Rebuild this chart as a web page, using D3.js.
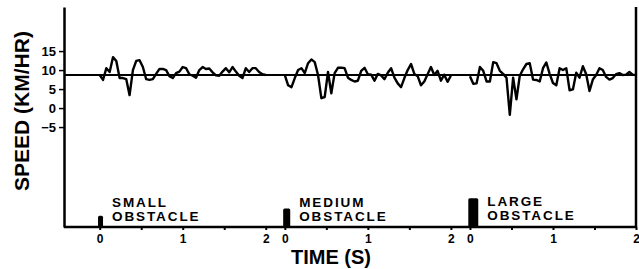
<!DOCTYPE html>
<html>
<head>
<meta charset="utf-8">
<script src="https://d3js.org/d3.v7.min.js"></script>
<style>
  body { margin: 0; background: #fff; }
  svg { display: block; font-family: "Liberation Sans", Arial, sans-serif; }
</style>
</head>
<body>
<svg class="chart"></svg>
<script>
// one trace per obstacle, sampled every 0.04 s from 0 to 2 s
const obstacles = ['SMALL', 'MEDIUM', 'LARGE'];
const obstacleSize = [2.8, 4.6, 7.2];        // pulse height, relative
const obstacleDuration = [0.06, 0.085, 0.12]; // s
const meanSpeed = 8.7;
const timeStep = 0.04;

const speedSmall = [8.7, 7.4, 10.5, 9.5, 13.4, 12.4, 7.9, 7.9, 7.6, 3.4,
  10.0, 12.4, 12.6, 10.8, 7.6, 7.4, 7.6, 9.0, 10.3, 10.3,
  10.0, 8.4, 7.9, 9.2, 9.6, 10.8, 10.5, 8.9, 8.5, 8.0,
  10.0, 10.8, 10.3, 10.4, 9.4, 8.6, 8.5, 9.6, 10.5, 9.4,
  10.8, 9.6, 8.5, 7.9, 10.5, 9.5, 10.5, 10.5, 9.5, 8.9, 8.7];
const speedMedium = [8.7, 6.0, 5.5, 7.9, 10.0, 10.5, 9.2, 11.8, 12.8, 12.1,
  8.7, 2.6, 2.9, 9.5, 3.9, 9.2, 10.6, 10.6, 10.5, 8.0,
  7.4, 7.0, 7.2, 9.8, 10.6, 8.9, 8.8, 7.2, 9.0, 8.6,
  7.6, 9.3, 10.5, 8.0, 6.5, 5.5, 7.9, 10.0, 11.6, 9.0,
  8.4, 6.0, 7.0, 8.9, 10.8, 8.7, 9.8, 7.2, 8.8, 6.9, 8.5];
const speedLarge = [8.4, 6.4, 6.5, 10.8, 9.8, 7.0, 7.0, 12.1, 11.8, 9.8,
  9.0, 8.0, -1.8, 8.0, 2.3, 8.5, 10.2, 11.6, 11.8, 7.5,
  7.4, 7.0, 10.5, 12.0, 9.0, 6.6, 6.0, 10.5, 10.0, 10.5,
  4.7, 4.9, 9.3, 8.0, 11.0, 8.9, 4.5, 7.5, 8.7, 10.5,
  10.0, 8.2, 7.5, 7.9, 8.9, 9.2, 8.7, 8.8, 9.5, 8.8, 8.7];

const speedTicks = [-5, 0, 5, 10, 15];
const timeTicks = [0, 0.5, 1, 1.5, 2];
const segmentStart = [0, 2.23, 4.46];

const width = 639, height = 269;
const svg = d3.select('.chart').attr('width', width).attr('height', height);

const x = d3.scaleLinear().domain([-0.43, 6.46]).range([64, 636]);
const y = d3.scaleLinear().domain([-31.3, 26.6]).range([227, 7]);
const yObs = d3.scaleLinear().domain([0, 10]).range([227, 187]);

// y axis
const yAxis = svg.append('g')
  .attr('transform', `translate(${x.range()[0]},0)`)
  .call(d3.axisLeft(y).tickValues(speedTicks).tickSize(5).tickSizeOuter(0).tickPadding(3));
yAxis.select('.domain').attr('stroke-width', 2.5);
yAxis.selectAll('.tick line').attr('stroke-width', 1.5);
yAxis.selectAll('text').attr('font-size', 13).attr('font-weight', 'bold')
  .attr('font-family', '"Liberation Sans", Arial, sans-serif');

// right border and baseline
svg.append('line')
  .attr('x1', x.range()[1]).attr('x2', x.range()[1])
  .attr('y1', y.range()[1]).attr('y2', y.range()[0])
  .attr('stroke', '#000').attr('stroke-width', 2.5);
svg.append('line')
  .attr('x1', x.range()[0]).attr('x2', x.range()[1])
  .attr('y1', y.range()[0]).attr('y2', y.range()[0])
  .attr('stroke', '#000').attr('stroke-width', 2.5);

// mean speed line
svg.append('line')
  .attr('x1', x.range()[0]).attr('x2', x.range()[1])
  .attr('y1', y(meanSpeed)).attr('y2', y(meanSpeed))
  .attr('stroke', '#000').attr('stroke-width', 1.8);

const traces = [speedSmall, speedMedium, speedLarge];
const line = d3.line()
  .x(d => x(d.t))
  .y(d => y(d.v));

traces.forEach((speeds, i) => {
  const off = segmentStart[i];
  const pts = speeds.map((v, k) => ({t: off + k * timeStep, v}));

  svg.append('path')
    .datum(pts)
    .attr('d', line)
    .attr('fill', 'none')
    .attr('stroke', '#000')
    .attr('stroke-width', 2.4)
    .attr('stroke-linejoin', 'round');

  // time axis for this trial
  const xs = d3.scaleLinear().domain([0, 2]).range([x(off), x(off + 2)]);
  const ax = svg.append('g')
    .attr('transform', `translate(0,${y.range()[0]})`)
    .call(d3.axisBottom(xs).tickValues(timeTicks).tickSize(3).tickPadding(4)
      .tickFormat(d => Number.isInteger(d) ? d : ''));
  ax.select('.domain').remove();
  ax.selectAll('.tick line').attr('stroke-width', 2);
  ax.selectAll('text').attr('font-size', 12).attr('font-weight', 'bold')
    .attr('font-family', '"Liberation Sans", Arial, sans-serif');

  // obstacle pulse
  const x0 = x(off - 0.02), x1 = x(off - 0.02 + obstacleDuration[i]);
  svg.append('rect')
    .attr('x', x0).attr('width', x1 - x0)
    .attr('y', yObs(obstacleSize[i])).attr('height', yObs(0) - yObs(obstacleSize[i]))
    .attr('rx', 1.5)
    .attr('fill', '#000');

  const lbl = svg.append('text')
    .attr('font-size', 13.5).attr('font-weight', 'bold')
    .attr('letter-spacing', 1.9);
  lbl.append('tspan').attr('x', x1 + 9).attr('y', i == 2 ? 206 : 207).text(obstacles[i]);
  lbl.append('tspan').attr('x', x1 + 9).attr('y', i == 2 ? 220 : 221).text('OBSTACLE');
});

// axis titles
svg.append('text')
  .attr('transform', `translate(29,111) rotate(-90)`)
  .attr('text-anchor', 'middle')
  .attr('font-size', 21).attr('font-weight', 'bold')
  .text('SPEED (KM/HR)');
svg.append('text')
  .attr('x', 331).attr('y', 264)
  .attr('text-anchor', 'middle')
  .attr('font-size', 20).attr('font-weight', 'bold')
  .text('TIME (S)');
</script>
</body>
</html>
